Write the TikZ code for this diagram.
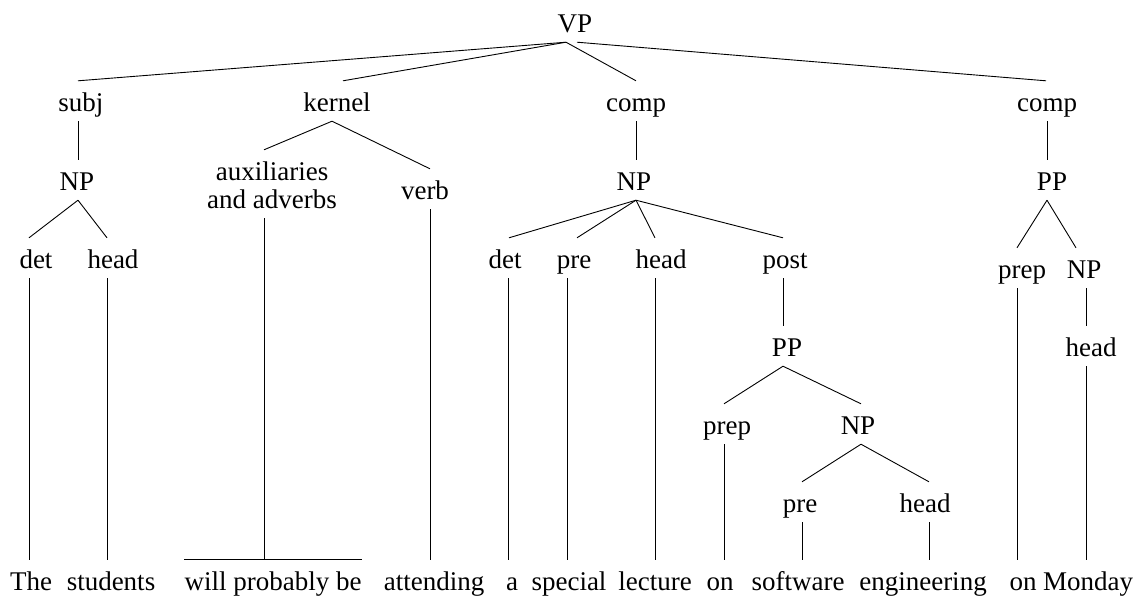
\documentclass[tikz,border=0pt]{standalone}
\usepackage{fontspec}
\setmainfont{Liberation Serif}
\begin{document}
\begin{tikzpicture}[x=1pt,y=-1pt,
  font=\fontsize{27}{28}\selectfont,
  lbl/.style={anchor=base,inner sep=0pt,text height=30pt,text depth=10pt},
  br/.style={line width=0.9pt}]
\useasboundingbox (0,0) rectangle (1135,595);
% level 0
\node[lbl] (VP) at (575,32) {VP};
% level 1
\node[lbl] (subj) at (81,111) {subj};
\node[lbl] (kernel) at (337,111) {kernel};
\node[lbl] (compa) at (636,111) {comp};
\node[lbl] (compb) at (1047,111) {comp};
% level 2
\node[lbl] (npa) at (77,190) {NP};
\node[lbl,text depth=38pt] (aux) at (272,180) {\begin{tabular}[t]{@{}c@{}}auxiliaries\\and adverbs\end{tabular}};
\node[lbl] (verb) at (425,199) {verb};
\node[lbl] (npb) at (634,190) {NP};
\node[lbl] (ppa) at (1052,190) {PP};
% level 3
\node[lbl] (deta) at (36,268) {det};
\node[lbl] (heada) at (113,268) {head};
\node[lbl] (detb) at (505,268) {det};
\node[lbl] (prea) at (574,268) {pre};
\node[lbl] (headb) at (661,268) {head};
\node[lbl] (post) at (785,268) {post};
\node[lbl] (prepa) at (1022,278) {prep};
\node[lbl] (npc) at (1084,278) {NP};
% deeper
\node[lbl] (ppb) at (787,356) {PP};
\node[lbl] (headd) at (1091,356) {head};
\node[lbl] (prepb) at (727,434) {prep};
\node[lbl] (npd) at (858,434) {NP};
\node[lbl] (preb) at (800,512) {pre};
\node[lbl] (headc) at (925,512) {head};
% words
\node[lbl] (wThe) at (31,590) {The};
\node[lbl] (wstudents) at (111,590) {students};
\node[lbl] (wwill) at (273,590) {will probably be};
\node[lbl] (wattending) at (434,590) {attending};
\node[lbl] (wa) at (512,590) {a};
\node[lbl] (wspecial) at (569,590) {special};
\node[lbl] (wlecture) at (655,590) {lecture};
\node[lbl] (wona) at (720,590) {on};
\node[lbl] (wsoftware) at (798,590) {software};
\node[lbl] (wengineering) at (923,590) {engineering};
\node[lbl] (wonb) at (1023,590) {on};
\node[lbl] (wMonday) at (1088,590) {Monday};
% connectors
\draw[br] ([xshift=-9pt]VP.south) -- ([xshift=-3pt]subj.north);
\draw[br] ([xshift=-9pt]VP.south) -- ([xshift=6pt]kernel.north);
\draw[br] ([xshift=-9pt]VP.south) -- (compa.north);
\draw[br] ([xshift=2pt]VP.south) -- ([xshift=-1pt]compb.north);
\draw[br] ([xshift=-3pt]subj.south) -- ([xshift=1pt]npa.north);
\draw[br] ([xshift=1pt]npa.south) -- ([xshift=-7pt]deta.north);
\draw[br] ([xshift=1pt]npa.south) -- ([xshift=-6pt]heada.north);
\draw[br] ([xshift=-7pt]deta.south) -- ([xshift=-2pt]wThe.north);
\draw[br] ([xshift=-6pt]heada.south) -- ([xshift=-4pt]wstudents.north);
\draw[br] ([xshift=-5pt]kernel.south) -- ([xshift=-8pt]aux.north);
\draw[br] ([xshift=-5pt]kernel.south) -- ([xshift=5pt]verb.north);
\draw[br] ([xshift=-8pt]aux.south) -- ([xshift=-9pt]wwill.north);
\draw[br] (wwill.north west) -- (wwill.north east);
\draw[br] ([xshift=5pt]verb.south) -- ([xshift=-4pt]wattending.north);
\draw[br] (compa.south) -- ([xshift=2pt]npb.north);
\draw[br] ([xshift=2pt]npb.south) -- ([xshift=4pt]detb.north);
\draw[br] ([xshift=2pt]npb.south) -- ([xshift=3pt]prea.north);
\draw[br] ([xshift=2pt]npb.south) -- ([xshift=-6pt]headb.north);
\draw[br] ([xshift=2pt]npb.south) -- ([xshift=-2pt]post.north);
\draw[br] ([xshift=3pt]detb.south) -- ([xshift=-4pt]wa.north);
\draw[br] ([xshift=-7pt]prea.south) -- ([xshift=-2pt]wspecial.north);
\draw[br] ([xshift=-6pt]headb.south) -- (wlecture.north);
\draw[br] ([xshift=-2pt]post.south) -- ([xshift=-4pt]ppb.north);
\draw[br] ([xshift=-4pt]ppb.south) -- ([xshift=-3pt]prepb.north);
\draw[br] ([xshift=-4pt]ppb.south) -- ([xshift=3pt]npd.north);
\draw[br] ([xshift=-3pt]prepb.south) -- ([xshift=4pt]wona.north);
\draw[br] ([xshift=3pt]npd.south) -- ([xshift=2pt]preb.north);
\draw[br] ([xshift=3pt]npd.south) -- ([xshift=4pt]headc.north);
\draw[br] ([xshift=2pt]preb.south) -- ([xshift=4pt]wsoftware.north);
\draw[br] ([xshift=4pt]headc.south) -- ([xshift=6pt]wengineering.north);
\draw[br] (compb.south) -- ([xshift=-5pt]ppa.north);
\draw[br] ([xshift=-5pt]ppa.south) -- ([xshift=-5pt]prepa.north);
\draw[br] ([xshift=-5pt]ppa.south) -- ([xshift=-8pt]npc.north);
\draw[br] ([xshift=-5pt]prepa.south) -- ([xshift=-6pt]wonb.north);
\draw[br] ([xshift=2pt]npc.south) -- ([xshift=-5pt]headd.north);
\draw[br] ([xshift=-5pt]headd.south) -- ([xshift=-2pt]wMonday.north);
\end{tikzpicture}
\end{document}
